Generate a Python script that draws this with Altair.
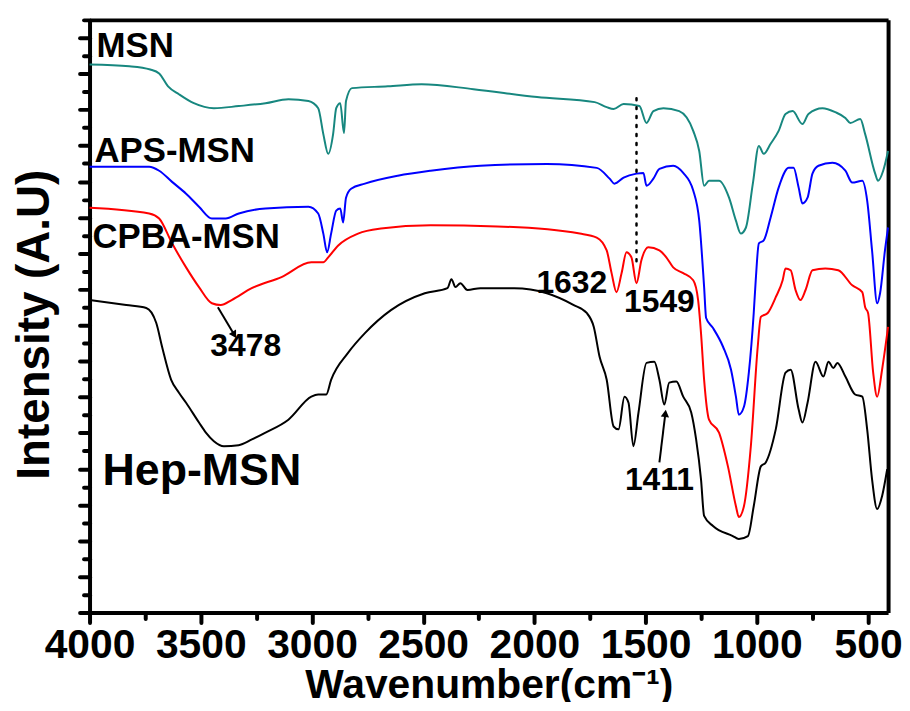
import altair as alt
import pandas as pd

# ---------------- data ----------------
msn_wn = [4000, 3821, 3727, 3687, 3647, 3598, 3531, 3441, 3329, 3209, 3106, 3016, 2972, 2949, 2927,
          2905, 2891, 2873, 2856, 2847, 2820, 2659, 2507, 2274, 1988, 1729, 1675, 1644, 1599, 1528,
          1496, 1465, 1420, 1349, 1286, 1259, 1237, 1215, 1170, 1125, 1094, 1072, 1049, 1018, 991,
          969, 938, 902, 871, 839, 795, 768, 705, 647, 602, 580, 535, 513, 468, 455, 432, 410]
msn_int = [15.26, 15.21, 15.12, 15.01, 14.65, 14.43, 14.18, 14.04, 14.10, 14.18, 14.29, 14.24, 14.04,
           13.32, 12.77, 13.32, 14.04, 14.18, 13.35, 14.24, 14.60, 14.65, 14.71, 14.57, 14.35, 14.21,
           14.07, 14.02, 14.16, 14.10, 13.63, 13.96, 14.04, 13.96, 13.41, 12.85, 11.88, 12.02, 12.02,
           11.55, 10.91, 10.55, 10.72, 11.94, 12.99, 12.77, 13.05, 13.41, 13.88, 13.96, 13.60, 13.88,
           14.04, 13.93, 13.77, 13.63, 13.74, 13.32, 12.22, 12.02, 12.30, 12.85]

aps_wn = [4000, 3866, 3732, 3687, 3629, 3566, 3508, 3450, 3388, 3329, 3209, 3016, 2972, 2949, 2932,
          2914, 2891, 2873, 2860, 2847, 2824, 2762, 2614, 2467, 2243, 1944, 1720, 1662, 1640, 1599,
          1541, 1510, 1496, 1465, 1438, 1376, 1331, 1286, 1259, 1237, 1228, 1197, 1152, 1116, 1094,
          1081, 1058, 1036, 1014, 1005, 991, 969, 938, 902, 857, 835, 812, 795, 772, 750, 723, 660,
          602, 571, 526, 504, 482, 459, 446, 424, 410]
aps_int = [12.41, 12.41, 12.41, 12.30, 11.99, 11.66, 11.30, 10.97, 10.97, 11.11, 11.25, 11.30, 11.11,
           10.55, 10.03, 10.55, 11.19, 11.25, 10.86, 11.55, 11.80, 11.94, 12.16, 12.30, 12.44, 12.49,
           12.38, 12.08, 11.94, 12.11, 12.22, 12.24, 11.88, 12.08, 12.35, 12.44, 12.24, 11.75, 10.91,
           9.06, 8.20, 7.92, 7.40, 6.76, 6.01, 5.51, 5.73, 6.68, 8.34, 9.25, 10.28, 10.36, 11.00,
           11.83, 12.38, 12.38, 11.83, 11.39, 11.55, 12.22, 12.44, 12.52, 12.30, 11.97, 12.02, 11.47,
           10.08, 8.61, 8.89, 10.08, 10.72]

cpba_wn = [4000, 3732, 3687, 3629, 3566, 3508, 3450, 3410, 3361, 3271, 3137, 3003, 2949, 2927, 2882,
           2793, 2690, 2467, 2167, 1796, 1720, 1675, 1653, 1631, 1608, 1586, 1564, 1541, 1519, 1488,
           1438, 1407, 1376, 1331, 1286, 1264, 1251, 1237, 1215, 1170, 1130, 1094, 1081, 1058, 1027,
           996, 982, 951, 915, 884, 871, 848, 826, 804, 781, 750, 692, 634, 571, 526, 513, 500, 477,
           459, 437, 410]
cpba_int = [11.27, 11.11, 10.97, 10.28, 9.61, 9.06, 8.61, 8.56, 8.70, 9.03, 9.34, 9.75, 9.75, 9.89,
            10.22, 10.55, 10.69, 10.78, 10.75, 10.55, 10.44, 10.08, 9.45, 8.92, 9.45, 10.03, 9.89,
            9.17, 9.81, 10.17, 10.08, 9.89, 9.61, 9.45, 9.25, 8.70, 7.78, 6.48, 5.37, 5.01, 4.07,
            2.96, 2.66, 2.96, 4.63, 7.40, 8.23, 8.34, 8.78, 9.25, 9.58, 9.53, 8.98, 8.70, 8.98, 9.53,
            9.58, 9.53, 9.11, 8.92, 8.50, 8.34, 6.68, 6.01, 6.76, 7.95]

hep_wn = [4000, 3835, 3745, 3700, 3674, 3633, 3598, 3566, 3508, 3477, 3441, 3396, 3330, 3270, 3209,
          3106, 3003, 2972, 2936, 2914, 2838, 2762, 2645, 2493, 2391, 2373, 2355, 2333, 2301, 2243,
          2091, 1944, 1823, 1765, 1733, 1707, 1675, 1644, 1622, 1595, 1577, 1555, 1532, 1496, 1461,
          1438, 1416, 1394, 1362, 1331, 1295, 1273, 1251, 1237, 1197, 1108, 1081, 1040, 1014, 982,
          960, 915, 871, 848, 812, 795, 772, 736, 701, 678, 656, 638, 602, 558, 526, 504, 482, 459,
          437, 414]
hep_int = [8.70, 8.56, 8.48, 8.06, 7.40, 6.48, 6.12, 5.84, 5.29, 5.01, 4.77, 4.63, 4.66, 4.82, 5.01,
           5.37, 6.01, 6.07, 6.07, 6.48, 7.23, 7.78, 8.42, 8.89, 9.03, 9.28, 9.06, 9.17, 8.98, 9.03,
           9.03, 8.89, 8.56, 8.34, 7.95, 7.12, 6.48, 5.18, 5.10, 6.01, 5.84, 4.63, 5.57, 6.95, 6.98,
           6.48, 5.79, 6.40, 6.43, 6.01, 5.57, 4.82, 3.71, 2.69, 2.41, 2.13, 2.05, 2.13, 2.96, 4.07,
           4.18, 5.10, 6.68, 6.76, 5.65, 5.29, 5.84, 6.98, 6.57, 6.98, 6.81, 6.95, 6.57, 6.07, 6.01,
           5.10, 3.71, 2.88, 3.24, 3.99]

series_names = ["MSN", "APS-MSN", "CPBA-MSN", "Hep-MSN"]
series_colors = ["#17877f", "#0000ff", "#ff0000", "#000000"]

# series name labels
name_text = ["MSN", "APS-MSN", "CPBA-MSN"]
name_x = [3969, 3978, 3987]
name_y = [15.76, 12.85, 10.44]
hep_label = ["Hep-MSN"]
hep_label_x = [3942]
hep_label_y = [3.93]

# peak labels
peak_text = ["3478", "1632", "1549", "1411"]
peak_x = [3298, 1832, 1438, 1438]
peak_y = [7.42, 9.17, 8.64, 3.68]

# arrows (start -> head)
arrow_x1 = [3423, 1438]
arrow_y1 = [8.50, 4.18]
arrow_x2 = [3352, 1412]
arrow_y2 = [7.76, 5.51]
arrow_angle = [149, 7]

# dotted marker line
dot_x = [1541]
dot_y1 = [14.32]
dot_y2 = [9.72]

x_major = [4000, 3500, 3000, 2500, 2000, 1500, 1000, 500]
x_minor = [3750, 3250, 2750, 2250, 1750, 1250, 750]
y_major = list(range(0, 17))
y_minor = [k + 0.5 for k in range(0, 17)]

# ---------------- tables ----------------
rows = []
for name, wn, it in zip(series_names, [msn_wn, aps_wn, cpba_wn, hep_wn],
                        [msn_int, aps_int, cpba_int, hep_int]):
    for k, (a, b) in enumerate(zip(wn, it)):
        rows.append({"series": name, "wn": a, "i": b, "k": k})
df = pd.DataFrame(rows)

names_df = pd.DataFrame({"t": name_text, "x": name_x, "y": name_y})
hep_df = pd.DataFrame({"t": hep_label, "x": hep_label_x, "y": hep_label_y})
peaks_df = pd.DataFrame({"t": peak_text, "x": peak_x, "y": peak_y})
arrows_df = pd.DataFrame({"x": arrow_x1, "y": arrow_y1, "x2": arrow_x2, "y2": arrow_y2,
                          "ang": arrow_angle})
dot_df = pd.DataFrame({"x": dot_x, "y": dot_y1, "y2": dot_y2})

XS = alt.Scale(domain=[4000, 410], nice=False, zero=False)
YS = alt.Scale(domain=[0, 16.5], nice=False, zero=False)

FONT = "Liberation Sans, Arial, sans-serif"

x_major_axis = alt.Axis(orient="bottom", values=x_major, tickSize=10, tickWidth=4,
                        tickColor="black", tickCap="round", domainWidth=4, domainColor="black",
                        grid=False, labelFont=FONT, labelFontWeight="bold", labelFontSize=41,
                        labelColor="black", labelPadding=3, labelFlush=False,
                        labelOverlap=False, labelBound=False, format="d",
                        title="Wavenumber(cm\u207b\u00b9)", titleFont=FONT,
                        titleFontWeight="bold", titleFontSize=41, titleColor="black",
                        titleBaseline="alphabetic", titleY=85)
x_minor_axis = alt.Axis(orient="bottom", values=x_minor, tickSize=6, tickWidth=4,
                        tickColor="black", tickCap="round", domain=False, labels=False,
                        grid=False, title=None)
y_major_axis = alt.Axis(orient="left", values=y_major, tickSize=10, tickWidth=4,
                        tickColor="black", tickCap="round", domainWidth=4, domainColor="black",
                        grid=False, labels=False, title="Intensity (A.U)", titleFont=FONT,
                        titleFontWeight="bold", titleFontSize=46, titleColor="black",
                        titleBaseline="alphabetic", titleAngle=270, titleX=-41, titleY=306)
y_minor_axis = alt.Axis(orient="left", values=y_minor, tickSize=6, tickWidth=4,
                        tickColor="black", tickCap="round", domain=False, labels=False,
                        grid=False, title=None)
top_axis = alt.Axis(orient="top", ticks=False, labels=False, grid=False, title=None,
                    domainWidth=4, domainColor="black")
right_axis = alt.Axis(orient="right", ticks=False, labels=False, grid=False, title=None,
                      domainWidth=4, domainColor="black")

lines = alt.Chart(df).mark_line(strokeWidth=2, interpolate="monotone").encode(
    x=alt.X("wn:Q", scale=XS, axis=x_major_axis),
    y=alt.Y("i:Q", scale=YS, axis=y_major_axis),
    color=alt.Color("series:N", scale=alt.Scale(domain=series_names, range=series_colors),
                    legend=None),
    order="k:Q",
)

minor = alt.Chart(dot_df).mark_point(opacity=0).encode(
    x=alt.X("x:Q", scale=XS, axis=x_minor_axis),
    y=alt.Y("y:Q", scale=YS, axis=y_minor_axis),
)

frame = alt.Chart(dot_df).mark_point(opacity=0).encode(
    x=alt.X("x:Q", scale=XS, axis=top_axis),
    y=alt.Y("y:Q", scale=YS, axis=right_axis),
)

dotted = alt.Chart(dot_df).mark_rule(strokeDash=[2, 7], strokeWidth=2.5, color="black",
                                     strokeCap="round").encode(
    x=alt.X("x:Q", scale=XS, axis=None),
    y=alt.Y("y:Q", scale=YS, axis=None),
    y2="y2:Q",
)

names = alt.Chart(names_df).mark_text(font=FONT, fontWeight="bold", fontSize=35, align="left",
                                      baseline="middle", color="black").encode(
    x=alt.X("x:Q", scale=XS, axis=None), y=alt.Y("y:Q", scale=YS, axis=None), text="t:N")

hep = alt.Chart(hep_df).mark_text(font=FONT, fontWeight="bold", fontSize=45, align="left",
                                  baseline="middle", color="black").encode(
    x=alt.X("x:Q", scale=XS, axis=None), y=alt.Y("y:Q", scale=YS, axis=None), text="t:N")

peaks = alt.Chart(peaks_df).mark_text(font=FONT, fontWeight="bold", fontSize=32, align="center",
                                      baseline="middle", color="black").encode(
    x=alt.X("x:Q", scale=XS, axis=None), y=alt.Y("y:Q", scale=YS, axis=None), text="t:N")

arrow_lines = alt.Chart(arrows_df).mark_rule(strokeWidth=2, color="black").encode(
    x=alt.X("x:Q", scale=XS, axis=None), y=alt.Y("y:Q", scale=YS, axis=None),
    x2="x2:Q", y2="y2:Q")

arrow_heads = alt.Chart(arrows_df).mark_point(shape="triangle", filled=True, size=70,
                                              color="black", opacity=1).encode(
    x=alt.X("x2:Q", scale=XS, axis=None), y=alt.Y("y2:Q", scale=YS, axis=None),
    angle=alt.Angle("ang:Q", scale=None))

chart = alt.layer(lines, minor, frame, dotted, names, hep, peaks, arrow_lines,
                  arrow_heads).resolve_axis(
    x="independent", y="independent"
).properties(
    width=803, height=596,
    autosize=alt.AutoSizeParams(type="none"),
    padding={"left": 82, "top": 10, "right": 14, "bottom": 88},
    background="white",
).configure_view(stroke=None)

chart.save("out.html", embed_options={"renderer": "svg", "actions": False})
